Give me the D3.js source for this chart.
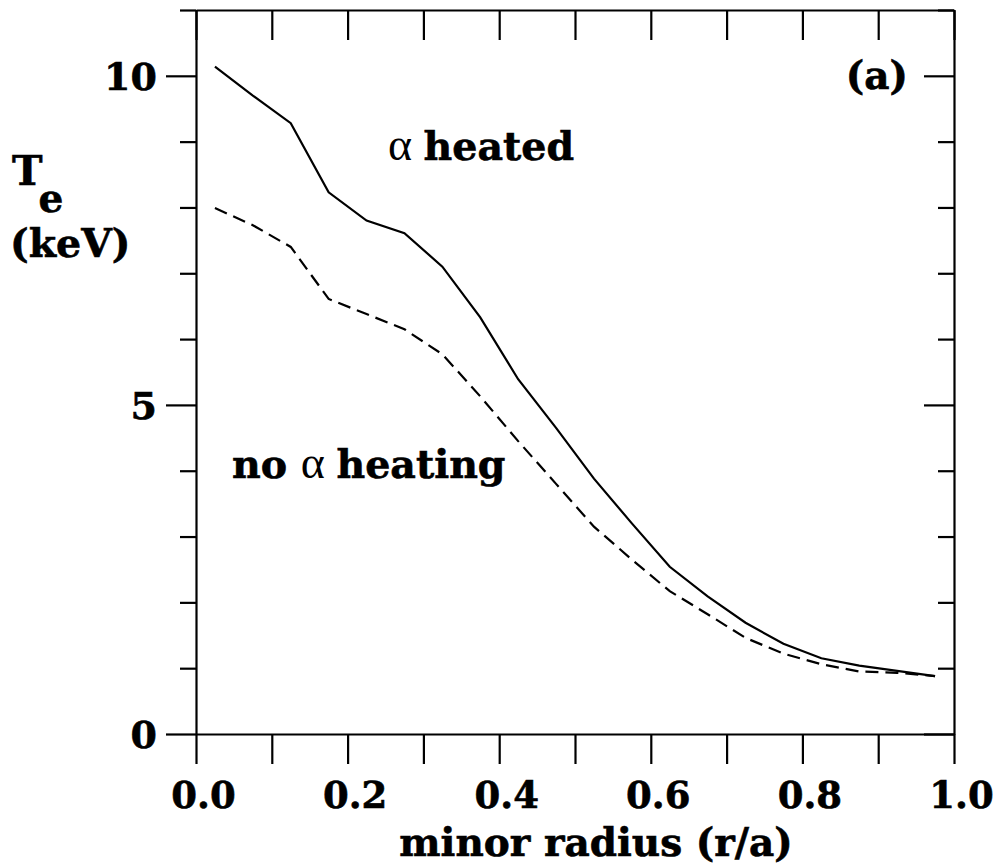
<!DOCTYPE html>
<html>
<head>
<meta charset="utf-8">
<script src="https://cdn.jsdelivr.net/npm/d3@7"></script>
<style>
  html, body { margin: 0; padding: 0; background: #fff; }
  svg { display: block; }
  text { font-family: "DejaVu Serif", "Liberation Serif", serif; font-weight: bold; fill: #000; stroke: #000; stroke-width: 0.6px; }
</style>
</head>
<body>
<svg id="chart" width="999" height="866"></svg>
<script>
// ---- data ----
const radius = [0.025, 0.075, 0.125, 0.175, 0.225, 0.275, 0.325, 0.375, 0.425, 0.475,
                0.525, 0.575, 0.625, 0.675, 0.725, 0.775, 0.825, 0.875, 0.925, 0.975];
const alphaHeated = [10.14, 9.70, 9.28, 8.23, 7.80, 7.61, 7.10, 6.33, 5.39, 4.65,
                     3.88, 3.20, 2.54, 2.09, 1.69, 1.37, 1.15, 1.04, 0.96, 0.88];
const noAlphaHeating = [7.99, 7.73, 7.40, 6.61, 6.38, 6.15, 5.77, 5.13, 4.45, 3.80,
                        3.15, 2.65, 2.17, 1.82, 1.46, 1.22, 1.06, 0.95, 0.93, 0.88];
const xTicks = [0, 0.1, 0.2, 0.3, 0.4, 0.5, 0.6, 0.7, 0.8, 0.9, 1.0];
const xTickLabels = ["0.0", "", "0.2", "", "0.4", "", "0.6", "", "0.8", "", "1.0"];
const yTicks = [0, 1, 2, 3, 4, 5, 6, 7, 8, 9, 10, 11];
const yMajorTicks = [0, 5, 10];
const yTickLabels = ["0", "5", "10"];

// ---- layout ----
const L = 196, R = 954, T = 10, B = 734;
const svg = d3.select("#chart");
const x = d3.scaleLinear().domain([0, 1]).range([L, R]);
const y = d3.scaleLinear().domain([0, 11]).range([B, T]);

const axisStyle = g => {
  g.selectAll("path.domain").attr("stroke", "#000").attr("stroke-width", 2.2);
  g.selectAll(".tick line").attr("stroke", "#000").attr("stroke-width", 2.2);
};

// bottom axis
const xb = svg.append("g").attr("transform", `translate(0,${B})`)
  .call(d3.axisBottom(x).tickValues(xTicks).tickSize(30).tickSizeOuter(0)
    .tickFormat((d, i) => xTickLabels[i]))
  .call(axisStyle);
xb.selectAll(".tick text")
  .attr("y", 74).attr("dy", 0).attr("dx", 7)
  .style("font-size", "37px").style("font-family", "DejaVu Serif").style("font-weight", "bold");

// top axis (ticks inward, no labels)
svg.append("g").attr("transform", `translate(0,${T})`)
  .call(d3.axisBottom(x).tickValues(xTicks).tickSize(30).tickSizeOuter(0).tickFormat(""))
  .call(axisStyle);

// left axis (ticks outward)
const yl = svg.append("g").attr("transform", `translate(${L},0)`)
  .call(d3.axisLeft(y).tickValues(yTicks).tickSize(30).tickSizeOuter(0)
    .tickFormat(d => { const k = yMajorTicks.indexOf(d); return k >= 0 ? yTickLabels[k] : ""; }))
  .call(axisStyle);
yl.selectAll(".tick line").attr("x2", d => yMajorTicks.includes(d) ? -30 : -16);
yl.selectAll(".tick text")
  .attr("x", -39).attr("dy", "0.36em")
  .style("font-size", "38px").style("font-family", "DejaVu Serif").style("font-weight", "bold");

// right axis (ticks inward)
const yr = svg.append("g").attr("transform", `translate(${R},0)`)
  .call(d3.axisLeft(y).tickValues(yTicks).tickSize(30).tickSizeOuter(0).tickFormat(""))
  .call(axisStyle);
yr.selectAll(".tick line").attr("x2", d => yMajorTicks.includes(d) ? -30 : -16);

// ---- lines ----
const line = d3.line().x((d, i) => x(radius[i])).y(d => y(d));
svg.append("path").datum(alphaHeated)
  .attr("d", line).attr("fill", "none").attr("stroke", "#000").attr("stroke-width", 2.2);
svg.append("path").datum(noAlphaHeating)
  .attr("d", line).attr("fill", "none").attr("stroke", "#000").attr("stroke-width", 2.2)
  .attr("stroke-dasharray", "13,7");

// ---- annotations ----
const t1 = svg.append("text").attr("x", 388).attr("y", 160).style("font-size", "39.5px");
t1.append("tspan").style("font-weight", "normal").style("stroke-width", "0").style("font-family", "Liberation Serif").style("font-size", "46px").text("α ");
t1.append("tspan").text("heated");

const t2 = svg.append("text").attr("x", 232).attr("y", 478).style("font-size", "39.5px");
t2.append("tspan").text("no ");
t2.append("tspan").style("font-weight", "normal").style("stroke-width", "0").style("font-family", "Liberation Serif").style("font-size", "46px").text("α ");
t2.append("tspan").text("heating");

svg.append("text").attr("x", 908).attr("y", 89).attr("text-anchor", "end")
  .style("font-size", "39px").text("(a)");

// y label
const yt = svg.append("text").attr("x", 12).attr("y", 185).style("font-size", "41px");
yt.append("tspan").text("T");
yt.append("tspan").attr("dy", 27).attr("dx", -4).style("font-size", "39px").text("e");
svg.append("text").attr("x", 10).attr("y", 257).style("font-size", "39.5px").text("(keV)");

// x label
svg.append("text").attr("x", 596).attr("y", 856).attr("text-anchor", "middle")
  .style("font-size", "39px").text("minor radius (r/a)");
</script>
</body>
</html>
